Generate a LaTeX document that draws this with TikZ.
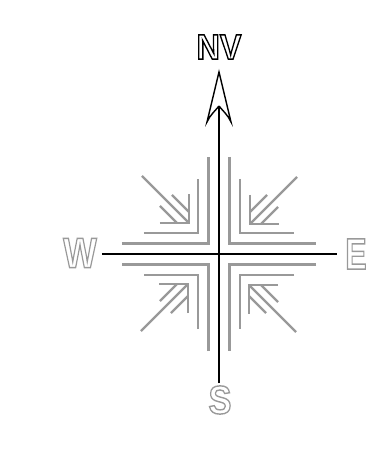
\documentclass[tikz,border=0pt]{standalone}
\usepackage{fontspec}
\setmainfont{Liberation Sans}
\definecolor{rosegray}{gray}{0.6}
% hollow letters: glyph outlines stroked, not filled
\newcommand{\hollow}[1]{%
  \special{pdf:literal direct 1 Tr 1.1 w}#1\special{pdf:literal direct 0 Tr}}
\begin{document}
\begin{tikzpicture}[x=0.03cm,y=0.03cm,
  rose/.style={rosegray,line width=2.1pt},
  axis/.style={black,line width=2.5pt},
  head/.style={black,line width=1.2pt},
  lbl/.style={inner sep=0pt,font=\bfseries}]
  \useasboundingbox (-219,-196) rectangle (163,254);
  % the gray corners, one per quadrant
  \foreach \a in {0,90,180,270}{
    \begin{scope}[rotate=\a]
      \draw[rose] (-97,10.5) -- (-10.5,10.5) -- (-10.5,97);
      \draw[rose] (-75,21) -- (-21,21) -- (-21,75);
      \draw[rose] (-59,31) -- (-30,31) -- (-30,60);
      \draw[rose] (-77,78) -- (-30,31);
      \draw[rose] (-47,59) -- (-30,42);
      \draw[rose] (-59,48) -- (-42,31);
    \end{scope}}
  % the axes
  \coordinate (w) at (-117,0);
  \coordinate (e) at (118,0);
  \coordinate (s) at (0,-129);
  \coordinate (n) at (0,148);
  \coordinate (tip) at (0,182);
  \draw[axis] (w) -- (e);
  \draw[axis] (s) -- (n);
  % the north arrowhead
  \draw[head] (n) .. controls (-3,144) and (-9,139) .. (-12,132) -- (tip)
    -- (12,132) .. controls (9,139) and (3,144) .. (n);
  % the letters
  \node[lbl,text=black] (north) at (0,207)
    {\fontsize{27pt}{27pt}\selectfont\hollow{\scalebox{1.02}[1.12]{NV}}};
  \node[lbl,text=rosegray] (west) at (-139,1)
    {\fontsize{33pt}{33pt}\selectfont\hollow{\scalebox{0.92}[1.1]{W}}};
  \node[lbl,text=rosegray] (east) at (137,0)
    {\fontsize{34pt}{34pt}\selectfont\hollow{\scalebox{0.8}[1.1]{E}}};
  \node[lbl,text=rosegray] (south) at (1,-146)
    {\fontsize{31pt}{31pt}\selectfont\hollow{\scalebox{0.95}[1.1]{S}}};
\end{tikzpicture}
\end{document}
